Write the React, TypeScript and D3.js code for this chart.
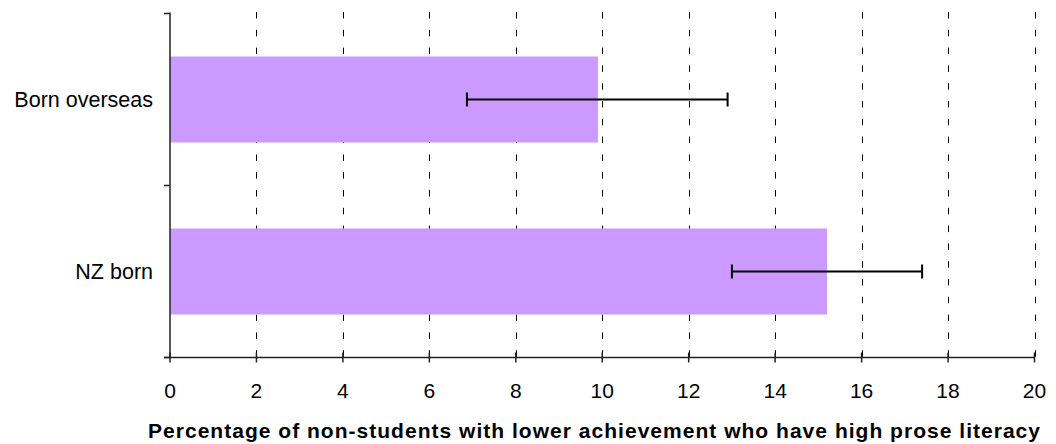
import React from "react";
import * as d3 from "d3";

const categories = ["Born overseas", "NZ born"];
const values = [9.9, 15.2];
const lowerCI = [6.87, 13.0];
const upperCI = [12.9, 17.4];
const xTicks = [0, 2, 4, 6, 8, 10, 12, 14, 16, 18, 20];
const xTitle = "Percentage of non-students with lower achievement who have high prose literacy";

const W = 1056;
const H = 444;
const left = 170;
const right = 1034.5;
const top = 13.5;
const bottom = 357.5;

export default function App() {
  const x = d3.scaleLinear().domain([0, 20]).range([left, right]);
  const y = d3.scaleBand<string>().domain(categories).range([top, bottom]).paddingInner(0.5).paddingOuter(0.25);
  const font = "'Liberation Sans', Arial, sans-serif";
  const step = y.step();
  const boundaries = [top, top + step, bottom];
  return (
    <svg width={W} height={H} style={{ position: "absolute", left: 0, top: 0, background: "#fff" }}>
      <rect x={0} y={0} width={W} height={H} fill="#fff" />
      {/* gridlines */}
      {xTicks.filter((t) => t > 0).map((t) => (
        <line key={"g" + t} x1={Math.round(x(t)) + 0.5} x2={Math.round(x(t)) + 0.5} y1={top - 1.5} y2={bottom}
          stroke="#000" strokeWidth={1} strokeDasharray="6.5,11.3" />
      ))}
      {/* bars */}
      {categories.map((c, i) => (
        <rect key={"b" + c} x={x(0)} y={y(c)} width={x(values[i]) - x(0)} height={y.bandwidth()} fill="#CC99FF" />
      ))}
      {/* error bars */}
      {categories.map((c, i) => {
        const cy = (y(c) as number) + y.bandwidth() / 2;
        return (
          <g key={"e" + c} stroke="#000" strokeWidth={2}>
            <line x1={x(lowerCI[i])} x2={x(upperCI[i])} y1={cy} y2={cy} />
            <line x1={x(lowerCI[i])} x2={x(lowerCI[i])} y1={cy - 7} y2={cy + 7} />
            <line x1={x(upperCI[i])} x2={x(upperCI[i])} y1={cy - 7} y2={cy + 7} />
          </g>
        );
      })}
      {/* y axis */}
      <line x1={left} x2={left} y1={top - 1} y2={bottom} stroke="#222" strokeWidth={1.5} />
      {boundaries.map((b, i) => (
        <line key={"yt" + i} x1={left - 6} x2={left} y1={b} y2={b} stroke="#222" strokeWidth={1.5} />
      ))}
      {/* x axis */}
      <line x1={left - 6} x2={right} y1={bottom} y2={bottom} stroke="#222" strokeWidth={1.5} />
      {xTicks.map((t) => (
        <line key={"xt" + t} x1={x(t)} x2={x(t)} y1={bottom - 5} y2={bottom + 5} stroke="#222" strokeWidth={1.5} />
      ))}
      {xTicks.map((t) => (
        <text key={"xl" + t} x={x(t)} y={398} textAnchor="middle" fontFamily={font} fontSize={21} fill="#000">{t}</text>
      ))}
      {categories.map((c) => (
        <text key={"yl" + c} x={153} y={(y(c) as number) + y.bandwidth() / 2 + 7.5} textAnchor="end" fontFamily={font} fontSize={21.5} fill="#000">{c}</text>
      ))}
      <text x={148} y={438} fontFamily={font} fontSize={21} fontWeight="bold" fill="#000" textLength={892} lengthAdjust="spacing">{xTitle}</text>
    </svg>
  );
}
